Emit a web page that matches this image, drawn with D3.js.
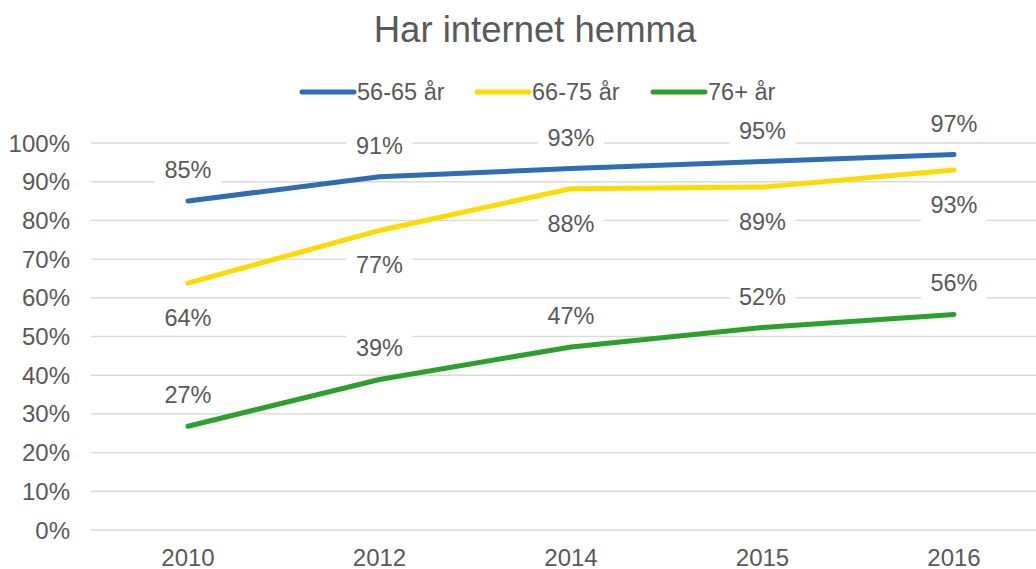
<!DOCTYPE html>
<html>
<head>
<meta charset="utf-8">
<script src="https://cdn.jsdelivr.net/npm/d3@7"></script>
<style>
  body { margin: 0; background: #fff; }
  text { font-family: "Liberation Sans", Arial, sans-serif; fill: #595959; }
</style>
</head>
<body>
<div id="chart"></div>
<script>
    const years = ["2010", "2012", "2014", "2015", "2016"];
    const series = ["56-65 år", "66-75 år", "76+ år"];
    const v5665 = [0.85, 0.913, 0.934, 0.952, 0.970];
    const v6675 = [0.638, 0.774, 0.882, 0.886, 0.930];
    const v76 = [0.268, 0.389, 0.473, 0.523, 0.557];
    const yTicks = [0, 0.1, 0.2, 0.3, 0.4, 0.5, 0.6, 0.7, 0.8, 0.9, 1];

    const colores = ["#2E6DB4", "#FFDA00", "#2CA02C"];
    const posLabel = ["above", "below", "above"]; // donde va la etiqueta de cada serie

    const width = 1036, height = 569;

    const svg = d3.select("#chart")
        .append("svg")
        .attr("width", width)
        .attr("height", height);

    // escalas
    const x = d3.scalePoint()
        .domain(years)
        .range([188, 954]);

    const y = d3.scaleLinear()
        .domain([0, 1])
        .range([530, 143]);

    const fmt = d3.format(".0%");

    // título
    svg.append("text")
        .attr("x", 535)
        .attr("y", 42)
        .attr("text-anchor", "middle")
        .style("font-size", "36.5px")
        .text("Har internet hemma");

    // rejilla horizontal
    svg.append("g")
        .selectAll("line")
        .data(yTicks)
        .enter()
        .append("line")
        .attr("x1", 91)
        .attr("x2", 1050)
        .attr("y1", d => y(d))
        .attr("y2", d => y(d))
        .attr("stroke", "#d9d9d9")
        .attr("stroke-width", 1.4);

    // eje y
    svg.append("g")
        .selectAll("text")
        .data(yTicks)
        .enter()
        .append("text")
        .attr("x", 70)
        .attr("y", d => y(d) + 8.5)
        .attr("text-anchor", "end")
        .style("font-size", "24px")
        .text(d => fmt(d));

    // eje x
    svg.append("g")
        .selectAll("text")
        .data(years)
        .enter()
        .append("text")
        .attr("x", d => x(d))
        .attr("y", 566)
        .attr("text-anchor", "middle")
        .style("font-size", "24px")
        .text(d => d);

    const datos = [v5665, v6675, v76].map((vals, i) => ({
        nombre: series[i],
        color: colores[i],
        pos: posLabel[i],
        puntos: vals.map((v, j) => ({ year: years[j], value: v }))
    }));

    const linea = d3.line()
        .x(d => x(d.year))
        .y(d => y(d.value));

    // líneas
    svg.append("g")
        .selectAll("path")
        .data(datos)
        .enter()
        .append("path")
        .attr("d", d => linea(d.puntos))
        .attr("fill", "none")
        .attr("stroke", d => d.color)
        .attr("stroke-width", 5)
        .attr("stroke-linecap", "round")
        .attr("stroke-linejoin", "round");

    // etiquetas de datos con fondo blanco
    const etiquetas = svg.append("g")
        .selectAll("g")
        .data(datos.flatMap(s => s.puntos.map(p => ({ ...p, pos: s.pos }))))
        .enter()
        .append("g")
        .attr("transform", d => {
            const base = d.pos === "above" ? y(d.value) - 23 : y(d.value) + 43;
            return `translate(${x(d.year)},${base})`;
        });

    etiquetas.append("rect")
        .attr("x", -33)
        .attr("y", -22)
        .attr("width", 66)
        .attr("height", 30)
        .attr("fill", "#fff");

    etiquetas.append("text")
        .attr("text-anchor", "middle")
        .style("font-size", "23.5px")
        .text(d => fmt(d.value));

    // leyenda
    const legX = [300, 475, 651];
    const leyenda = svg.append("g")
        .selectAll("g")
        .data(datos)
        .enter()
        .append("g")
        .attr("transform", (d, i) => `translate(${legX[i]},92)`);

    leyenda.append("line")
        .attr("x1", 2)
        .attr("x2", 54)
        .attr("stroke", d => d.color)
        .attr("stroke-width", 5)
        .attr("stroke-linecap", "round");

    leyenda.append("text")
        .attr("x", 57)
        .attr("y", 8)
        .style("font-size", "23.5px")
        .text(d => d.nombre);
</script>
</body>
</html>
